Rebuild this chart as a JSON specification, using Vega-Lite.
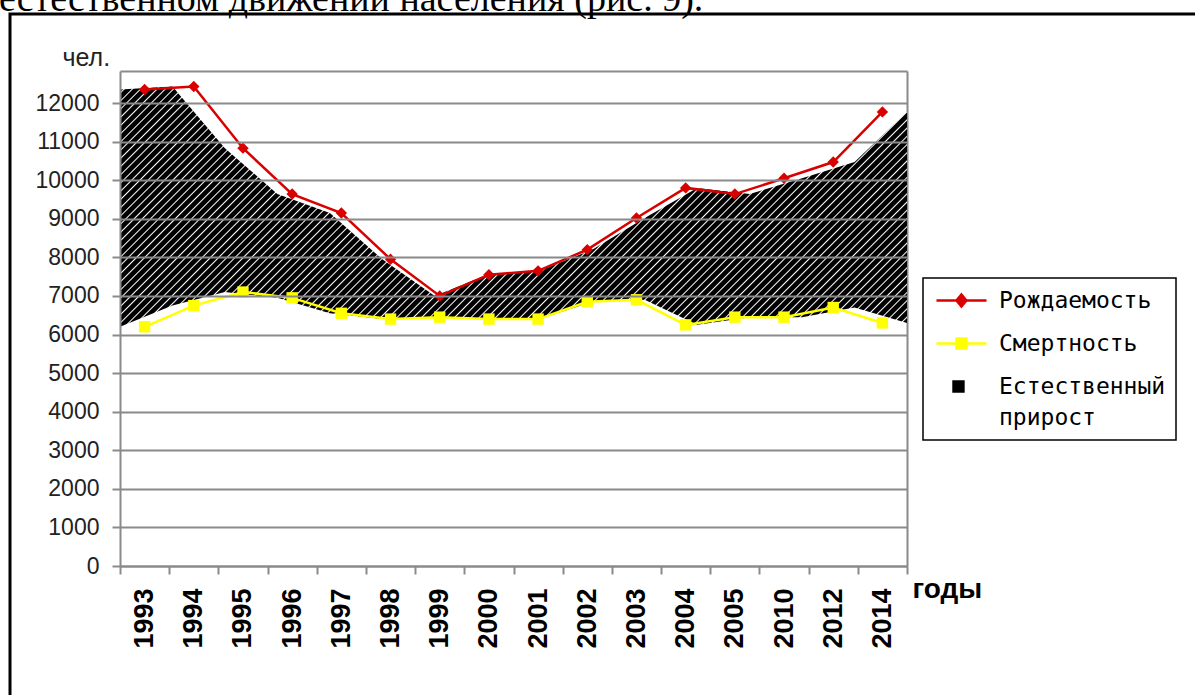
{
  "$schema": "https://vega.github.io/schema/vega-lite/v6.json",
  "width": 1192,
  "height": 690,
  "autosize": {"type": "none"},
  "padding": {"left": 10, "top": 14, "right": -7, "bottom": -9},
  "background": "white",
  "title": {
    "text": "естественном движении населения (рис. 9).",
    "font": "Liberation Serif",
    "fontSize": 38,
    "fontWeight": "normal",
    "color": "#000000",
    "anchor": "start",
    "frame": "group",
    "baseline": "alphabetic",
    "offset": -35,
    "dx": -11
  },
  "config": {
    "view": {"stroke": "#000000", "strokeWidth": 3},
    "axis": {"labelFont": "Liberation Sans", "titleFont": "Liberation Sans"}
  },
  "data": {
    "values": [
      {"год": "1993", "Рождаемость": 12350, "Смертность": 6200},
      {"год": "1994", "Рождаемость": 12430, "Смертность": 6750},
      {"год": "1995", "Рождаемость": 10830, "Смертность": 7100},
      {"год": "1996", "Рождаемость": 9640, "Смертность": 6950},
      {"год": "1997", "Рождаемость": 9150, "Смертность": 6550},
      {"год": "1998", "Рождаемость": 7950, "Смертность": 6400},
      {"год": "1999", "Рождаемость": 7000, "Смертность": 6450},
      {"год": "2000", "Рождаемость": 7550, "Смертность": 6400},
      {"год": "2001", "Рождаемость": 7650, "Смертность": 6400},
      {"год": "2002", "Рождаемость": 8200, "Смертность": 6850},
      {"год": "2003", "Рождаемость": 9020, "Смертность": 6900},
      {"год": "2004", "Рождаемость": 9800, "Смертность": 6250},
      {"год": "2005", "Рождаемость": 9640, "Смертность": 6450},
      {"год": "2010", "Рождаемость": 10050, "Смертность": 6450},
      {"год": "2012", "Рождаемость": 10470, "Смертность": 6700},
      {"год": "2014", "Рождаемость": 11770, "Смертность": 6300}
    ]
  },
  "layer": [
    {
      "mark": {
        "type": "area",
        "interpolate": "linear",
        "fill": {
          "gradient": "linear", "x1": 0, "y1": 0, "x2": 1.194, "y2": 0.3648,
          "stops": [
            {"offset": 0, "color": "#000"},
            {"offset": 0.0052, "color": "#000"}, {"offset": 0.0066, "color": "#fff"}, {"offset": 0.008, "color": "#000"},
            {"offset": 0.0132, "color": "#000"}, {"offset": 0.0146, "color": "#fff"}, {"offset": 0.016, "color": "#000"},
            {"offset": 0.0212, "color": "#000"}, {"offset": 0.0226, "color": "#fff"}, {"offset": 0.024, "color": "#000"},
            {"offset": 0.0292, "color": "#000"}, {"offset": 0.0306, "color": "#fff"}, {"offset": 0.032, "color": "#000"},
            {"offset": 0.0372, "color": "#000"}, {"offset": 0.0386, "color": "#fff"}, {"offset": 0.04, "color": "#000"},
            {"offset": 0.0452, "color": "#000"}, {"offset": 0.0466, "color": "#fff"}, {"offset": 0.048, "color": "#000"},
            {"offset": 0.0532, "color": "#000"}, {"offset": 0.0546, "color": "#fff"}, {"offset": 0.056, "color": "#000"},
            {"offset": 0.0612, "color": "#000"}, {"offset": 0.0626, "color": "#fff"}, {"offset": 0.064, "color": "#000"},
            {"offset": 0.0692, "color": "#000"}, {"offset": 0.0706, "color": "#fff"}, {"offset": 0.072, "color": "#000"},
            {"offset": 0.0772, "color": "#000"}, {"offset": 0.0786, "color": "#fff"}, {"offset": 0.08, "color": "#000"},
            {"offset": 0.0852, "color": "#000"}, {"offset": 0.0866, "color": "#fff"}, {"offset": 0.088, "color": "#000"},
            {"offset": 0.0932, "color": "#000"}, {"offset": 0.0946, "color": "#fff"}, {"offset": 0.096, "color": "#000"},
            {"offset": 0.1012, "color": "#000"}, {"offset": 0.1026, "color": "#fff"}, {"offset": 0.104, "color": "#000"},
            {"offset": 0.1092, "color": "#000"}, {"offset": 0.1106, "color": "#fff"}, {"offset": 0.112, "color": "#000"},
            {"offset": 0.1172, "color": "#000"}, {"offset": 0.1186, "color": "#fff"}, {"offset": 0.12, "color": "#000"},
            {"offset": 0.1252, "color": "#000"}, {"offset": 0.1266, "color": "#fff"}, {"offset": 0.128, "color": "#000"},
            {"offset": 0.1332, "color": "#000"}, {"offset": 0.1346, "color": "#fff"}, {"offset": 0.136, "color": "#000"},
            {"offset": 0.1412, "color": "#000"}, {"offset": 0.1426, "color": "#fff"}, {"offset": 0.144, "color": "#000"},
            {"offset": 0.1492, "color": "#000"}, {"offset": 0.1506, "color": "#fff"}, {"offset": 0.152, "color": "#000"},
            {"offset": 0.1572, "color": "#000"}, {"offset": 0.1586, "color": "#fff"}, {"offset": 0.16, "color": "#000"},
            {"offset": 0.1652, "color": "#000"}, {"offset": 0.1666, "color": "#fff"}, {"offset": 0.168, "color": "#000"},
            {"offset": 0.1732, "color": "#000"}, {"offset": 0.1746, "color": "#fff"}, {"offset": 0.176, "color": "#000"},
            {"offset": 0.1812, "color": "#000"}, {"offset": 0.1826, "color": "#fff"}, {"offset": 0.184, "color": "#000"},
            {"offset": 0.1892, "color": "#000"}, {"offset": 0.1906, "color": "#fff"}, {"offset": 0.192, "color": "#000"},
            {"offset": 0.1972, "color": "#000"}, {"offset": 0.1986, "color": "#fff"}, {"offset": 0.2, "color": "#000"},
            {"offset": 0.2052, "color": "#000"}, {"offset": 0.2066, "color": "#fff"}, {"offset": 0.208, "color": "#000"},
            {"offset": 0.2132, "color": "#000"}, {"offset": 0.2146, "color": "#fff"}, {"offset": 0.216, "color": "#000"},
            {"offset": 0.2212, "color": "#000"}, {"offset": 0.2226, "color": "#fff"}, {"offset": 0.224, "color": "#000"},
            {"offset": 0.2292, "color": "#000"}, {"offset": 0.2306, "color": "#fff"}, {"offset": 0.232, "color": "#000"},
            {"offset": 0.2372, "color": "#000"}, {"offset": 0.2386, "color": "#fff"}, {"offset": 0.24, "color": "#000"},
            {"offset": 0.2452, "color": "#000"}, {"offset": 0.2466, "color": "#fff"}, {"offset": 0.248, "color": "#000"},
            {"offset": 0.2532, "color": "#000"}, {"offset": 0.2546, "color": "#fff"}, {"offset": 0.256, "color": "#000"},
            {"offset": 0.2612, "color": "#000"}, {"offset": 0.2626, "color": "#fff"}, {"offset": 0.264, "color": "#000"},
            {"offset": 0.2692, "color": "#000"}, {"offset": 0.2706, "color": "#fff"}, {"offset": 0.272, "color": "#000"},
            {"offset": 0.2772, "color": "#000"}, {"offset": 0.2786, "color": "#fff"}, {"offset": 0.28, "color": "#000"},
            {"offset": 0.2852, "color": "#000"}, {"offset": 0.2866, "color": "#fff"}, {"offset": 0.288, "color": "#000"},
            {"offset": 0.2932, "color": "#000"}, {"offset": 0.2946, "color": "#fff"}, {"offset": 0.296, "color": "#000"},
            {"offset": 0.3012, "color": "#000"}, {"offset": 0.3026, "color": "#fff"}, {"offset": 0.304, "color": "#000"},
            {"offset": 0.3092, "color": "#000"}, {"offset": 0.3106, "color": "#fff"}, {"offset": 0.312, "color": "#000"},
            {"offset": 0.3172, "color": "#000"}, {"offset": 0.3186, "color": "#fff"}, {"offset": 0.32, "color": "#000"},
            {"offset": 0.3252, "color": "#000"}, {"offset": 0.3266, "color": "#fff"}, {"offset": 0.328, "color": "#000"},
            {"offset": 0.3332, "color": "#000"}, {"offset": 0.3346, "color": "#fff"}, {"offset": 0.336, "color": "#000"},
            {"offset": 0.3412, "color": "#000"}, {"offset": 0.3426, "color": "#fff"}, {"offset": 0.344, "color": "#000"},
            {"offset": 0.3492, "color": "#000"}, {"offset": 0.3506, "color": "#fff"}, {"offset": 0.352, "color": "#000"},
            {"offset": 0.3572, "color": "#000"}, {"offset": 0.3586, "color": "#fff"}, {"offset": 0.36, "color": "#000"},
            {"offset": 0.3652, "color": "#000"}, {"offset": 0.3666, "color": "#fff"}, {"offset": 0.368, "color": "#000"},
            {"offset": 0.3732, "color": "#000"}, {"offset": 0.3746, "color": "#fff"}, {"offset": 0.376, "color": "#000"},
            {"offset": 0.3812, "color": "#000"}, {"offset": 0.3826, "color": "#fff"}, {"offset": 0.384, "color": "#000"},
            {"offset": 0.3892, "color": "#000"}, {"offset": 0.3906, "color": "#fff"}, {"offset": 0.392, "color": "#000"},
            {"offset": 0.3972, "color": "#000"}, {"offset": 0.3986, "color": "#fff"}, {"offset": 0.4, "color": "#000"},
            {"offset": 0.4052, "color": "#000"}, {"offset": 0.4066, "color": "#fff"}, {"offset": 0.408, "color": "#000"},
            {"offset": 0.4132, "color": "#000"}, {"offset": 0.4146, "color": "#fff"}, {"offset": 0.416, "color": "#000"},
            {"offset": 0.4212, "color": "#000"}, {"offset": 0.4226, "color": "#fff"}, {"offset": 0.424, "color": "#000"},
            {"offset": 0.4292, "color": "#000"}, {"offset": 0.4306, "color": "#fff"}, {"offset": 0.432, "color": "#000"},
            {"offset": 0.4372, "color": "#000"}, {"offset": 0.4386, "color": "#fff"}, {"offset": 0.44, "color": "#000"},
            {"offset": 0.4452, "color": "#000"}, {"offset": 0.4466, "color": "#fff"}, {"offset": 0.448, "color": "#000"},
            {"offset": 0.4532, "color": "#000"}, {"offset": 0.4546, "color": "#fff"}, {"offset": 0.456, "color": "#000"},
            {"offset": 0.4612, "color": "#000"}, {"offset": 0.4626, "color": "#fff"}, {"offset": 0.464, "color": "#000"},
            {"offset": 0.4692, "color": "#000"}, {"offset": 0.4706, "color": "#fff"}, {"offset": 0.472, "color": "#000"},
            {"offset": 0.4772, "color": "#000"}, {"offset": 0.4786, "color": "#fff"}, {"offset": 0.48, "color": "#000"},
            {"offset": 0.4852, "color": "#000"}, {"offset": 0.4866, "color": "#fff"}, {"offset": 0.488, "color": "#000"},
            {"offset": 0.4932, "color": "#000"}, {"offset": 0.4946, "color": "#fff"}, {"offset": 0.496, "color": "#000"},
            {"offset": 0.5012, "color": "#000"}, {"offset": 0.5026, "color": "#fff"}, {"offset": 0.504, "color": "#000"},
            {"offset": 0.5092, "color": "#000"}, {"offset": 0.5106, "color": "#fff"}, {"offset": 0.512, "color": "#000"},
            {"offset": 0.5172, "color": "#000"}, {"offset": 0.5186, "color": "#fff"}, {"offset": 0.52, "color": "#000"},
            {"offset": 0.5252, "color": "#000"}, {"offset": 0.5266, "color": "#fff"}, {"offset": 0.528, "color": "#000"},
            {"offset": 0.5332, "color": "#000"}, {"offset": 0.5346, "color": "#fff"}, {"offset": 0.536, "color": "#000"},
            {"offset": 0.5412, "color": "#000"}, {"offset": 0.5426, "color": "#fff"}, {"offset": 0.544, "color": "#000"},
            {"offset": 0.5492, "color": "#000"}, {"offset": 0.5506, "color": "#fff"}, {"offset": 0.552, "color": "#000"},
            {"offset": 0.5572, "color": "#000"}, {"offset": 0.5586, "color": "#fff"}, {"offset": 0.56, "color": "#000"},
            {"offset": 0.5652, "color": "#000"}, {"offset": 0.5666, "color": "#fff"}, {"offset": 0.568, "color": "#000"},
            {"offset": 0.5732, "color": "#000"}, {"offset": 0.5746, "color": "#fff"}, {"offset": 0.576, "color": "#000"},
            {"offset": 0.5812, "color": "#000"}, {"offset": 0.5826, "color": "#fff"}, {"offset": 0.584, "color": "#000"},
            {"offset": 0.5892, "color": "#000"}, {"offset": 0.5906, "color": "#fff"}, {"offset": 0.592, "color": "#000"},
            {"offset": 0.5972, "color": "#000"}, {"offset": 0.5986, "color": "#fff"}, {"offset": 0.6, "color": "#000"},
            {"offset": 0.6052, "color": "#000"}, {"offset": 0.6066, "color": "#fff"}, {"offset": 0.608, "color": "#000"},
            {"offset": 0.6132, "color": "#000"}, {"offset": 0.6146, "color": "#fff"}, {"offset": 0.616, "color": "#000"},
            {"offset": 0.6212, "color": "#000"}, {"offset": 0.6226, "color": "#fff"}, {"offset": 0.624, "color": "#000"},
            {"offset": 0.6292, "color": "#000"}, {"offset": 0.6306, "color": "#fff"}, {"offset": 0.632, "color": "#000"},
            {"offset": 0.6372, "color": "#000"}, {"offset": 0.6386, "color": "#fff"}, {"offset": 0.64, "color": "#000"},
            {"offset": 0.6452, "color": "#000"}, {"offset": 0.6466, "color": "#fff"}, {"offset": 0.648, "color": "#000"},
            {"offset": 0.6532, "color": "#000"}, {"offset": 0.6546, "color": "#fff"}, {"offset": 0.656, "color": "#000"},
            {"offset": 0.6612, "color": "#000"}, {"offset": 0.6626, "color": "#fff"}, {"offset": 0.664, "color": "#000"},
            {"offset": 0.6692, "color": "#000"}, {"offset": 0.6706, "color": "#fff"}, {"offset": 0.672, "color": "#000"},
            {"offset": 0.6772, "color": "#000"}, {"offset": 0.6786, "color": "#fff"}, {"offset": 0.68, "color": "#000"},
            {"offset": 0.6852, "color": "#000"}, {"offset": 0.6866, "color": "#fff"}, {"offset": 0.688, "color": "#000"},
            {"offset": 0.6932, "color": "#000"}, {"offset": 0.6946, "color": "#fff"}, {"offset": 0.696, "color": "#000"},
            {"offset": 0.7012, "color": "#000"}, {"offset": 0.7026, "color": "#fff"}, {"offset": 0.704, "color": "#000"},
            {"offset": 0.7092, "color": "#000"}, {"offset": 0.7106, "color": "#fff"}, {"offset": 0.712, "color": "#000"},
            {"offset": 0.7172, "color": "#000"}, {"offset": 0.7186, "color": "#fff"}, {"offset": 0.72, "color": "#000"},
            {"offset": 0.7252, "color": "#000"}, {"offset": 0.7266, "color": "#fff"}, {"offset": 0.728, "color": "#000"},
            {"offset": 0.7332, "color": "#000"}, {"offset": 0.7346, "color": "#fff"}, {"offset": 0.736, "color": "#000"},
            {"offset": 0.7412, "color": "#000"}, {"offset": 0.7426, "color": "#fff"}, {"offset": 0.744, "color": "#000"},
            {"offset": 0.7492, "color": "#000"}, {"offset": 0.7506, "color": "#fff"}, {"offset": 0.752, "color": "#000"},
            {"offset": 0.7572, "color": "#000"}, {"offset": 0.7586, "color": "#fff"}, {"offset": 0.76, "color": "#000"},
            {"offset": 0.7652, "color": "#000"}, {"offset": 0.7666, "color": "#fff"}, {"offset": 0.768, "color": "#000"},
            {"offset": 0.7732, "color": "#000"}, {"offset": 0.7746, "color": "#fff"}, {"offset": 0.776, "color": "#000"},
            {"offset": 0.7812, "color": "#000"}, {"offset": 0.7826, "color": "#fff"}, {"offset": 0.784, "color": "#000"},
            {"offset": 0.7892, "color": "#000"}, {"offset": 0.7906, "color": "#fff"}, {"offset": 0.792, "color": "#000"},
            {"offset": 0.7972, "color": "#000"}, {"offset": 0.7986, "color": "#fff"}, {"offset": 0.8, "color": "#000"},
            {"offset": 0.8052, "color": "#000"}, {"offset": 0.8066, "color": "#fff"}, {"offset": 0.808, "color": "#000"},
            {"offset": 0.8132, "color": "#000"}, {"offset": 0.8146, "color": "#fff"}, {"offset": 0.816, "color": "#000"},
            {"offset": 0.8212, "color": "#000"}, {"offset": 0.8226, "color": "#fff"}, {"offset": 0.824, "color": "#000"},
            {"offset": 0.8292, "color": "#000"}, {"offset": 0.8306, "color": "#fff"}, {"offset": 0.832, "color": "#000"},
            {"offset": 0.8372, "color": "#000"}, {"offset": 0.8386, "color": "#fff"}, {"offset": 0.84, "color": "#000"},
            {"offset": 0.8452, "color": "#000"}, {"offset": 0.8466, "color": "#fff"}, {"offset": 0.848, "color": "#000"},
            {"offset": 0.8532, "color": "#000"}, {"offset": 0.8546, "color": "#fff"}, {"offset": 0.856, "color": "#000"},
            {"offset": 0.8612, "color": "#000"}, {"offset": 0.8626, "color": "#fff"}, {"offset": 0.864, "color": "#000"},
            {"offset": 0.8692, "color": "#000"}, {"offset": 0.8706, "color": "#fff"}, {"offset": 0.872, "color": "#000"},
            {"offset": 0.8772, "color": "#000"}, {"offset": 0.8786, "color": "#fff"}, {"offset": 0.88, "color": "#000"},
            {"offset": 0.8852, "color": "#000"}, {"offset": 0.8866, "color": "#fff"}, {"offset": 0.888, "color": "#000"},
            {"offset": 0.8932, "color": "#000"}, {"offset": 0.8946, "color": "#fff"}, {"offset": 0.896, "color": "#000"},
            {"offset": 0.9012, "color": "#000"}, {"offset": 0.9026, "color": "#fff"}, {"offset": 0.904, "color": "#000"},
            {"offset": 0.9092, "color": "#000"}, {"offset": 0.9106, "color": "#fff"}, {"offset": 0.912, "color": "#000"},
            {"offset": 0.9172, "color": "#000"}, {"offset": 0.9186, "color": "#fff"}, {"offset": 0.92, "color": "#000"},
            {"offset": 0.9252, "color": "#000"}, {"offset": 0.9266, "color": "#fff"}, {"offset": 0.928, "color": "#000"},
            {"offset": 0.9332, "color": "#000"}, {"offset": 0.9346, "color": "#fff"}, {"offset": 0.936, "color": "#000"},
            {"offset": 0.9412, "color": "#000"}, {"offset": 0.9426, "color": "#fff"}, {"offset": 0.944, "color": "#000"},
            {"offset": 0.9492, "color": "#000"}, {"offset": 0.9506, "color": "#fff"}, {"offset": 0.952, "color": "#000"},
            {"offset": 0.9572, "color": "#000"}, {"offset": 0.9586, "color": "#fff"}, {"offset": 0.96, "color": "#000"},
            {"offset": 0.9652, "color": "#000"}, {"offset": 0.9666, "color": "#fff"}, {"offset": 0.968, "color": "#000"},
            {"offset": 0.9732, "color": "#000"}, {"offset": 0.9746, "color": "#fff"}, {"offset": 0.976, "color": "#000"},
            {"offset": 0.9812, "color": "#000"}, {"offset": 0.9826, "color": "#fff"}, {"offset": 0.984, "color": "#000"},
            {"offset": 0.9892, "color": "#000"}, {"offset": 0.9906, "color": "#fff"}, {"offset": 0.992, "color": "#000"},
            {"offset": 0.9972, "color": "#000"}, {"offset": 0.9986, "color": "#fff"}, {"offset": 1, "color": "#000"}
          ]
        }
      },
      "encoding": {
        "x": {
          "field": "год", "type": "ordinal", "sort": null,
          "scale": {"type": "point", "padding": 0, "range": [110, 897]},
          "axis": {
            "orient": "top", "offset": -57, "title": null,
            "labels": false, "ticks": false, "grid": false,
            "domain": true, "domainColor": "#8a8a8a", "domainWidth": 2
          }
        },
        "y": {
          "field": "Рождаемость", "type": "quantitative",
          "scale": {"domain": [0, 12830], "nice": false, "zero": true, "range": [552, 57]},
          "axis": {
            "orient": "left", "offset": -110,
            "values": [0, 1000, 2000, 3000, 4000, 5000, 6000, 7000, 8000, 9000, 10000, 11000, 12000],
            "format": "d",
            "zindex": 1,
            "grid": true, "gridColor": "#8a8a8a", "gridWidth": 2, "gridOpacity": 1,
            "domain": true, "domainColor": "#8a8a8a", "domainWidth": 2,
            "ticks": true, "tickColor": "#8a8a8a", "tickWidth": 2, "tickSize": 8,
            "labelFontSize": 23, "labelColor": "#222222", "labelPadding": 13,
            "title": "чел.", "titleAngle": 0, "titleX": -58, "titleY": 51,
            "titleAlign": "left", "titleBaseline": "alphabetic",
            "titleFontSize": 25, "titleFontWeight": "normal", "titleColor": "#222222"
          }
        },
        "y2": {"field": "Смертность"}
      }
    },
    {
      "transform": [{"fold": ["Рождаемость", "Смертность"], "as": ["показатель", "value"]}],
      "mark": {"type": "line", "strokeWidth": 2.5},
      "encoding": {
        "x": {
          "field": "год", "type": "ordinal", "sort": null,
          "scale": {"type": "band", "paddingInner": 0, "paddingOuter": 0, "range": [110, 897]},
          "axis": {
            "orient": "bottom", "offset": -138, "tickBand": "extent",
            "domain": true, "domainColor": "#8a8a8a", "domainWidth": 2,
            "ticks": true, "tickColor": "#8a8a8a", "tickWidth": 2, "tickSize": 8,
            "grid": false,
            "labelAngle": -90, "labelAlign": "right", "labelBaseline": "middle",
            "labelFontSize": 27, "labelFontWeight": "bold", "labelColor": "#000000",
            "labelPadding": 14, "labelOverlap": false,
            "title": "годы", "titleX": 902, "titleY": 31, "titleAngle": 0,
            "titleAlign": "left", "titleBaseline": "alphabetic",
            "titleFontSize": 28, "titleFontWeight": "bold", "titleColor": "#000000"
          }
        },
        "y": {
          "field": "value", "type": "quantitative",
          "axis": {
            "orient": "right", "offset": -295, "title": null,
            "labels": false, "ticks": false, "grid": false,
            "domain": true, "domainColor": "#8a8a8a", "domainWidth": 2
          }
        },
        "color": {
          "field": "показатель", "type": "nominal",
          "scale": {"domain": ["Рождаемость", "Смертность", "Естественный прирост"], "range": ["#d90000", "#ffff00", "#000000"]},
          "legend": {
            "orient": "none", "legendX": 913, "legendY": 264, "title": null,
            "strokeColor": "#000000", "fillColor": "#ffffff",
            "padding": 10, "rowPadding": 18, "symbolSize": 484, "labelOffset": 41,
            "labelFont": "DejaVu Sans Mono", "labelFontSize": 23, "labelColor": "#000000", "labelLimit": 400,
            "labelExpr": "datum.label == 'Естественный прирост' ? ['Естественный', 'прирост'] : datum.label",
            "encode": {
              "legend": {"update": {"strokeWidth": {"value": 1.5}}},
              "labels": {"update": {"lineHeight": {"value": 31}}},
              "symbols": {
                "update": {
                  "shape": {"signal": "datum.value == 'Рождаемость' ? 'M-0.82,0H3.73M1.45,-0.55L1.9,0L1.45,0.55L1,0Z' : datum.value == 'Смертность' ? 'M-0.82,0H3.73M1,-0.45H1.9V0.45H1Z' : 'M0.73,-0.45H1.63V0.45H0.73Z'"},
                  "fill": {"scale": "color", "field": "value"},
                  "stroke": {"scale": "color", "field": "value"},
                  "strokeWidth": {"value": 2.5},
                  "size": {"value": 484},
                  "opacity": {"value": 1}
                }
              }
            }
          }
        }
      }
    },
    {
      "transform": [{"fold": ["Рождаемость", "Смертность"], "as": ["показатель", "value"]}],
      "mark": {"type": "point", "filled": true, "size": 130, "opacity": 1},
      "encoding": {
        "x": {
          "field": "год", "type": "ordinal", "sort": null,
          "scale": {"type": "band", "paddingInner": 0, "paddingOuter": 0, "range": [110, 897]},
          "axis": null
        },
        "y": {"field": "value", "type": "quantitative", "axis": null},
        "shape": {
          "field": "показатель", "type": "nominal",
          "scale": {"domain": ["Рождаемость", "Смертность"], "range": ["diamond", "square"]},
          "legend": null
        },
        "color": {"field": "показатель", "type": "nominal"}
      }
    }
  ],
  "resolve": {"scale": {"x": "independent"}, "axis": {"y": "independent"}}
}
